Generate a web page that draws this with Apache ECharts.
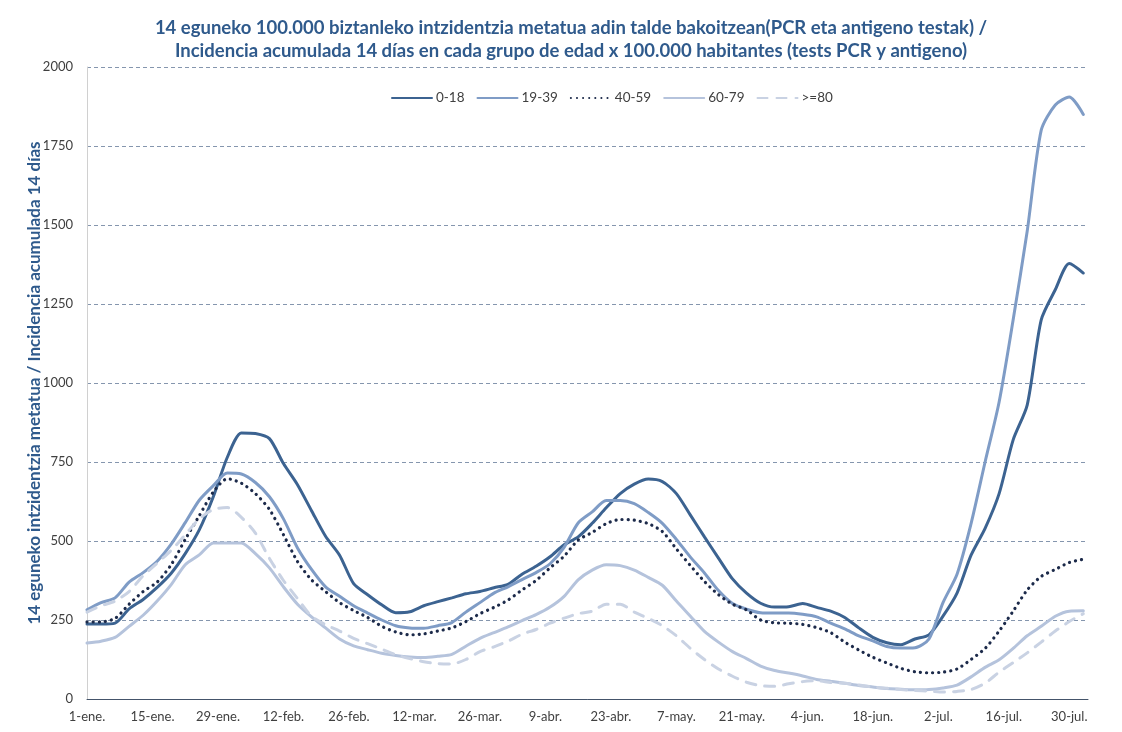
<!DOCTYPE html>
<html><head><meta charset="utf-8">
<script src="https://cdn.jsdelivr.net/npm/echarts@6/dist/echarts.min.js"></script>
<style>html,body{margin:0;padding:0;background:#fff}#c{width:1122px;height:732px}</style>
</head><body><div id="c"></div>
<script>
const days = [0,3,6,9,12,15,18,21,24,27,30,33,36,39,42,45,48,51,54,57,60,63,66,69,72,75,78,81,84,87,90,93,96,99,102,105,108,111,114,117,120,123,126,129,132,135,138,141,144,147,150,153,156,159,162,165,168,171,174,177,180,183,186,189,192,195,198,201,204,207,210,213];
const tickLabels = ['1-ene.','15-ene.','29-ene.','12-feb.','26-feb.','12-mar.','26-mar.','9-abr.','23-abr.','7-may.','21-may.','4-jun.','18-jun.','2-jul.','16-jul.','30-jul.'];
const seriesNames = ['0-18','19-39','40-59','60-79','>=80'];
const v0_18 = [237,237,240,285,315,353,398,460,535,640,765,842,840,824,745,678,596,515,455,365,330,298,273,276,295,308,320,333,340,352,363,395,420,450,488,513,556,605,650,680,696,688,650,582,513,446,380,335,303,291,292,302,290,278,258,225,195,178,172,190,203,262,335,455,540,650,820,930,1200,1295,1378,1348];
const v19_39 = [282,305,320,370,400,436,490,558,629,675,715,712,685,640,570,478,410,355,325,295,272,250,232,225,224,232,242,275,305,335,355,378,400,428,480,557,592,628,628,618,590,556,505,449,399,343,302,284,273,272,272,268,260,240,222,200,184,166,161,162,190,305,395,555,750,940,1200,1480,1800,1880,1905,1850];
const v40_59 = [244,244,255,300,340,370,425,505,580,655,697,683,650,600,520,435,377,340,305,280,258,230,212,203,206,215,225,245,270,290,313,345,375,415,452,503,527,555,568,566,555,530,475,422,372,330,300,282,250,241,240,236,226,210,180,155,132,114,97,86,83,85,95,125,160,215,278,345,388,410,432,442];
const v60_79 = [177,183,195,230,265,310,362,425,456,494,494,494,460,415,355,300,260,225,190,168,156,145,138,133,131,135,141,167,192,210,228,248,267,291,325,377,408,425,422,408,385,360,310,262,214,180,150,128,104,90,82,73,62,56,50,43,38,33,31,29,30,35,44,70,100,124,160,200,230,262,278,279];
const v80 = [275,295,310,340,390,430,470,520,570,600,606,575,525,445,375,318,262,235,215,192,175,158,140,128,118,112,111,125,150,165,183,205,220,240,256,270,278,300,300,275,255,232,200,160,125,95,72,53,42,40,48,55,58,52,50,44,38,34,30,27,25,22,24,30,50,85,115,146,180,215,245,270];

const FONT = 'Lato, "Open Sans", sans-serif';
const pair = arr => days.map((d, i) => [d, arr[i]]);
const chart = echarts.init(document.getElementById('c'), null, {renderer: 'canvas'});
const mk = (name, arr, color, type, width) => ({
  name, type: 'line', data: pair(arr), smooth: 0.25, showSymbol: false, symbol: 'none',
  lineStyle: {color, width, type, cap: 'round'}, itemStyle: {color}, emphasis: {disabled: true}
});
chart.setOption({
  animation: false,
  backgroundColor: '#ffffff',
  title: {
    text: '14 eguneko 100.000 biztanleko intzidentzia metatua adin talde bakoitzean(PCR eta antigeno testak) /\nIncidencia acumulada 14 días en cada grupo de edad x 100.000 habitantes (tests PCR y antigeno)',
    left: 566, top: 12, textAlign: 'center',
    textStyle: {fontFamily: FONT, fontSize: 18.5, fontWeight: 'bold', color: '#2f5a8c', lineHeight: 23}
  },
  legend: {
    top: 86, left: 386, itemWidth: 40, itemHeight: 14, itemGap: 12,
    itemStyle: {opacity: 0},
    textStyle: {fontFamily: FONT, fontSize: 13.5, color: '#404040', padding: [0, 0, 0, -1]},
    data: seriesNames
  },
  grid: {left: 87, right: 34, top: 67, bottom: 33},
  xAxis: {
    type: 'value', min: 0, max: 214, interval: 14,
    axisLine: {show: true, lineStyle: {color: '#44546a', width: 1}},
    axisTick: {show: false},
    splitLine: {show: false},
    axisLabel: {
      fontFamily: FONT, fontSize: 13, color: '#404040', margin: 11,
      formatter: v => (v % 14 === 0 && tickLabels[v / 14]) ? tickLabels[v / 14] : ''
    }
  },
  yAxis: {
    type: 'value', min: 0, max: 2000, interval: 250,
    name: '14 eguneko intzidentzia metatua / Incidencia acumulada 14 días',
    nameLocation: 'middle', nameGap: 44, nameMoveOverlap: false,
    nameTextStyle: {fontFamily: FONT, fontSize: 17, fontWeight: 'bold', color: '#2f5a8c'},
    axisLine: {show: true, lineStyle: {color: '#d0d0d0', width: 1}},
    axisTick: {show: false},
    axisLabel: {fontFamily: FONT, fontSize: 13, color: '#404040', margin: 14, formatter: v => String(v)},
    splitLine: {show: true, lineStyle: {color: '#8596ae', type: [4, 3], width: 1}}
  },
  series: [
    mk('0-18', v0_18, '#3c6391', 'solid', 3),
    mk('19-39', v19_39, '#7f9cc6', 'solid', 3),
    mk('40-59', v40_59, '#1c2a4a', [0.1, 6], 3.2),
    mk('60-79', v60_79, '#b5c3dc', 'solid', 3),
    mk('>=80', v80, '#c9d2e3', [10, 9], 3)
  ]
});
</script></body></html>
